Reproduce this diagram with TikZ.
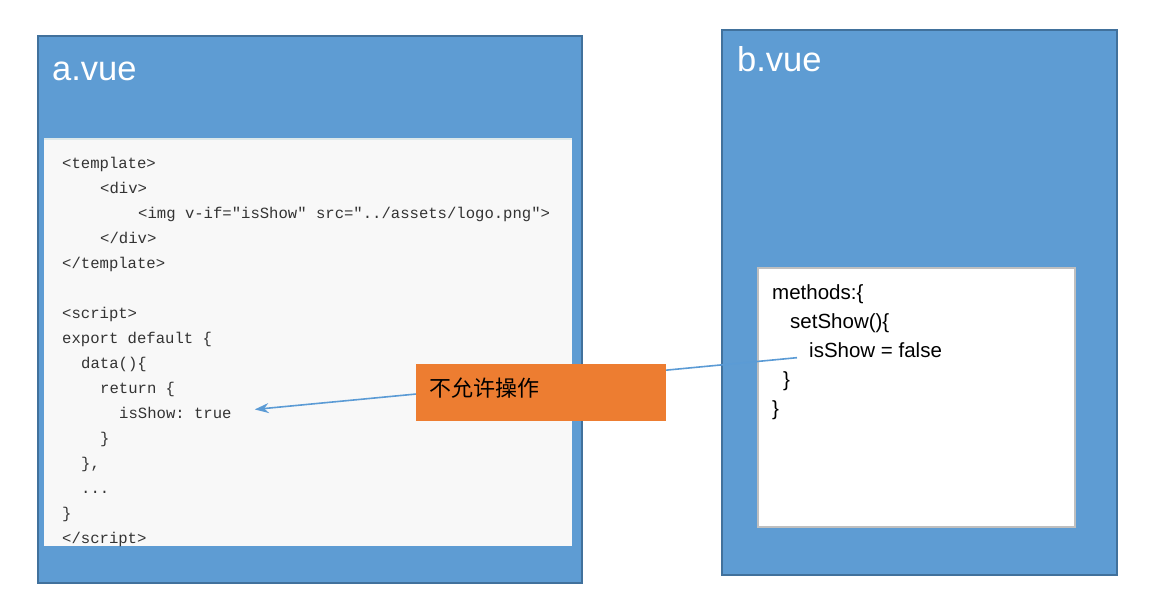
\documentclass[tikz,border=0pt]{standalone}
\usepackage{fontspec}
\setmainfont{Liberation Sans}
\setmonofont{Liberation Mono}
\newfontfamily\cjk{Noto Sans CJK SC}
\usetikzlibrary{positioning,arrows.meta,calc}

\definecolor{vueblue}{HTML}{5E9CD3}
\definecolor{vueedge}{HTML}{41719C}
\definecolor{codebg}{HTML}{F8F8F8}
\definecolor{codetop}{HTML}{DCE8EA}
\definecolor{warnorange}{HTML}{ED7D31}
\definecolor{linkblue}{HTML}{5B9BD5}
\definecolor{boxgray}{HTML}{BFBFBF}

\tikzset{
    filebox/.style={draw=vueedge,line width=1.5pt,fill=vueblue,inner sep=0},
    filetitle/.style={text=white,font=\fontsize{34.5}{40}\selectfont,anchor=base west,inner sep=0},
    codeline/.style={text=black!80,font=\ttfamily\fontsize{15.6}{18}\selectfont,anchor=base west,inner sep=0},
    methline/.style={font=\fontsize{20.5}{24}\selectfont,anchor=base west,inner sep=0}
}

\begin{document}
\begin{tikzpicture}[x=1pt,y=-1pt]
    \useasboundingbox[fill=white] (0,0) rectangle (1162,590);

    % Files
    \node[filebox,minimum width=544pt,minimum height=547pt] (avue) at (310,309.5) {};
    \node[filebox,minimum width=395pt,minimum height=545pt] (bvue) at (919.5,302.5) {};
    \node[filetitle] (atitle) at (52,80) {a.vue};
    \node[filetitle] (btitle) at (737,71) {b.vue};

    % Code of a.vue
    \node[fill=codebg,inner sep=0,minimum width=528pt,minimum height=408pt] (codepanel) at (308,342) {};
    \draw[codetop,line width=1.5pt] (codepanel.north west) ++(0,1) -- ($(codepanel.north east)+(0,1)$);
    \begin{scope}
        \clip (codepanel.north west) rectangle (codepanel.south east);
        \node[codeline] (c0) at (62,168) {<template>};
        \node[codeline] (c1) at (100,193) {<div>};
        \node[codeline] (c2) at (138,218) {<img v-if="isShow" src="../assets/logo.png">};
        \node[codeline] (c3) at (100,243) {</div>};
        \node[codeline] (c4) at (62,268) {</template>};
        \node[codeline] (c6) at (62,318) {<script>};
        \node[codeline] (c7) at (62,343) {export default \{};
        \node[codeline] (c8) at (81,368) {data()\{};
        \node[codeline] (c9) at (100,393) {return \{};
        \node[codeline] (istrue) at (119,418) {isShow: true};
        \node[codeline] (c11) at (100,443) {\}};
        \node[codeline] (c12) at (81,468) {\},};
        \node[codeline] (c13) at (81,493) {...};
        \node[codeline] (c14) at (62,518) {\}};
        \node[codeline] (c15) at (62,543) {</script>};
    \end{scope}

    % Methods of b.vue
    \node[draw=boxgray,line width=2pt,fill=white,minimum width=317pt,minimum height=259pt] (methbox) at (916.5,397.5) {};
    \node[methline] (m0) at (772,299) {methods:\{};
    \node[methline] (m1) at (790,328) {setShow()\{};
    \node[methline] (isfalse) at (809,357) {isShow = false};
    \node[methline] (m3) at (783,386) {\}};
    \node[methline] (m4) at (772,415) {\}};

    % Link
    \draw[linkblue,line width=1.6pt,-{Stealth[length=14pt,width=10pt]}]
        ($(isfalse.west)+(-12,8)$) -- ($(istrue.east)+(23,-3)$);

    \node[fill=warnorange,inner sep=0,minimum width=250pt,minimum height=57pt] (warn) at (541,392.5) {};
    \node[font=\cjk\fontsize{22}{26}\selectfont,anchor=west,inner sep=0] (warntext) at (429,388) {不允许操作};
\end{tikzpicture}
\end{document}
